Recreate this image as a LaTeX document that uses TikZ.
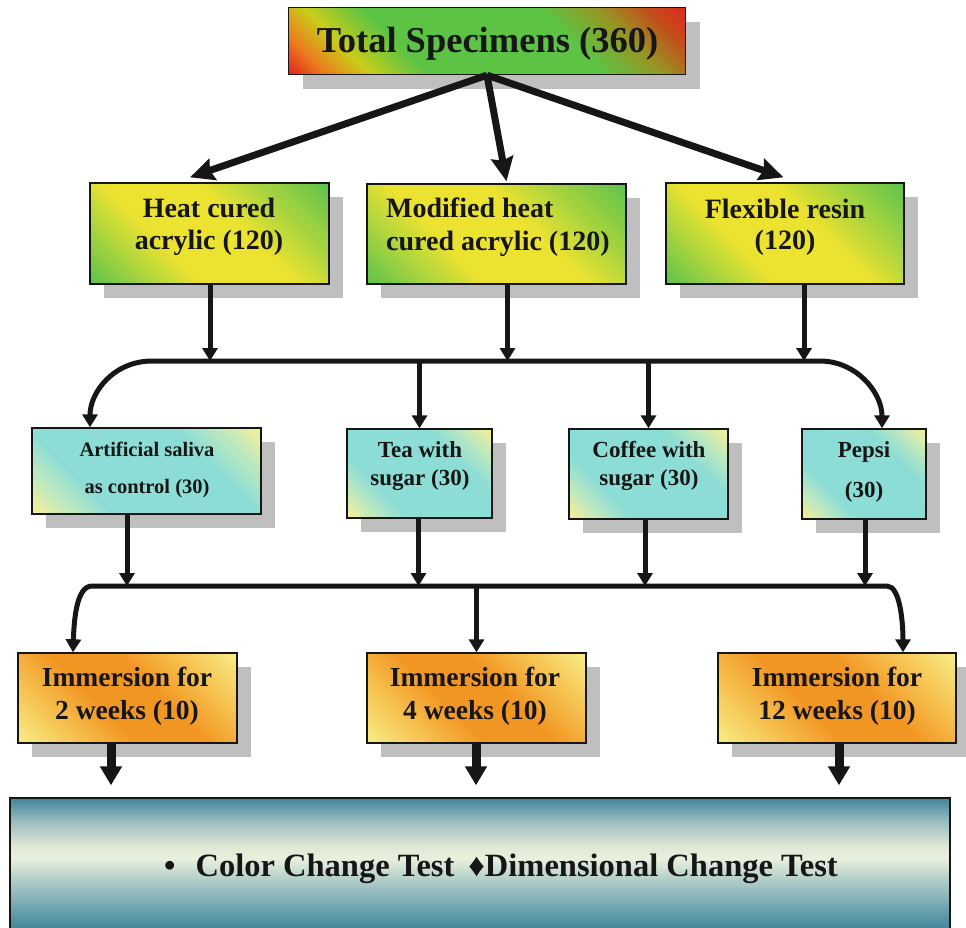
\documentclass[tikz,border=0pt]{standalone}
\usepackage{fontspec}
\setmainfont{Liberation Serif}
\usetikzlibrary{arrows.meta,shadows,calc}
% top box colours
\definecolor{tR}{RGB}{222,42,30}
\definecolor{tO}{RGB}{236,120,30}
\definecolor{tY}{RGB}{200,205,25}
\definecolor{tG}{RGB}{92,195,68}
\definecolor{tOl}{RGB}{150,150,35}
\definecolor{tB}{RGB}{192,82,28}
% green boxes
\definecolor{gG}{RGB}{95,195,75}
\definecolor{gM}{RGB}{170,212,62}
\definecolor{gY}{RGB}{236,226,48}
% cyan boxes
\definecolor{cC}{RGB}{140,221,214}
\definecolor{cM}{RGB}{190,232,190}
\definecolor{cY}{RGB}{246,240,150}
% orange boxes
\definecolor{oO}{RGB}{242,150,35}
\definecolor{oM}{RGB}{246,196,82}
\definecolor{oY}{RGB}{248,236,135}
% bottom box
\definecolor{bT}{RGB}{62,133,153}
\definecolor{b910}{RGB}{105,160,172}
\definecolor{b880}{RGB}{175,205,200}
\definecolor{bCr}{RGB}{234,240,222}
\definecolor{b845}{RGB}{222,230,212}
\definecolor{b820}{RGB}{150,185,190}
\definecolor{ink}{RGB}{22,22,22}
\pgfdeclarehorizontalshading{topsh}{100bp}{color(0bp)=(tR); color(15bp)=(tR); color(20bp)=(tO); color(27bp)=(tY); color(36bp)=(tG); color(63bp)=(tG); color(72bp)=(tOl); color(79bp)=(tB); color(85bp)=(tR); color(100bp)=(tR)}
\pgfdeclarehorizontalshading{grsh}{100bp}{color(0bp)=(gG); color(15bp)=(gG); color(27bp)=(gM); color(38bp)=(gY); color(58bp)=(gY); color(70bp)=(gM); color(85bp)=(gG); color(100bp)=(gG)}
\pgfdeclarehorizontalshading{cysh}{100bp}{color(0bp)=(cY); color(15bp)=(cY); color(24bp)=(cM); color(33bp)=(cC); color(66bp)=(cC); color(76bp)=(cM); color(85bp)=(cY); color(100bp)=(cY)}
\pgfdeclarehorizontalshading{orsh}{100bp}{color(0bp)=(oY); color(15bp)=(oY); color(28bp)=(oM); color(42bp)=(oO); color(58bp)=(oO); color(72bp)=(oM); color(85bp)=(oY); color(100bp)=(oY)}
\pgfdeclareverticalshading{botsh}{100bp}{color(0bp)=(bT); color(27bp)=(bT); color(34bp)=(b910); color(45bp)=(b880); color(53bp)=(bCr); color(58bp)=(b845); color(67bp)=(b820); color(75bp)=(bT); color(100bp)=(bT)}
\newcommand\myfs[2]{\fontsize{#1pt}{#2pt}\selectfont\bfseries}
\tikzset{
  box/.style={draw=ink, line width=1.4pt, inner sep=0pt,
    drop shadow={shadow xshift=14pt, shadow yshift=-14pt, fill=black!25, opacity=1}},
  topbox/.style={box, shading=topsh, shading angle=45},
  grbox/.style={box, shading=grsh, shading angle=45},
  cybox/.style={box, shading=cysh, shading angle=45},
  orbox/.style={box, shading=orsh, shading angle=45},
  txt/.style={inner sep=0pt, text=ink, align=center},
  mtip/.tip={Triangle[length=13pt,width=15pt]},
  ttip/.tip={Stealth[length=24pt,width=22pt,inset=3pt]},
  btip/.tip={Triangle[length=19pt,width=21pt]},
  toparr/.style={draw=ink, line width=7pt, -ttip},
  midline/.style={draw=ink, line width=5pt},
  midarr/.style={midline, -mtip},
  botarr/.style={draw=ink, line width=9pt, -btip},
}
\begin{document}
\begin{tikzpicture}[x=1pt,y=-1pt]
\useasboundingbox (0,0) rectangle (966,927);
% boxes
\node[topbox, minimum width=397pt, minimum height=67pt] (top) at (487,41) {};
\node[grbox, minimum width=239pt, minimum height=101pt] (hca) at (209.5,233.5) {};
\node[grbox, minimum width=259pt, minimum height=100pt] (mhca) at (496.5,234) {};
\node[grbox, minimum width=238pt, minimum height=101pt] (fr) at (785,233.5) {};
\node[cybox, minimum width=229pt, minimum height=86pt] (sal) at (146.5,471) {};
\node[cybox, minimum width=145pt, minimum height=89pt] (tea) at (419.5,473.5) {};
\node[cybox, minimum width=159pt, minimum height=90pt] (cof) at (648.5,474) {};
\node[cybox, minimum width=124pt, minimum height=90pt] (pep) at (864,474) {};
\node[orbox, minimum width=219pt, minimum height=90pt] (w2) at (127.5,698) {};
\node[orbox, minimum width=219pt, minimum height=90pt] (w4) at (476.5,698) {};
\node[orbox, minimum width=238pt, minimum height=90pt] (w12) at (837,698) {};
\node[draw=ink, line width=1.4pt, shading=botsh, minimum width=940pt, minimum height=137pt, inner sep=0pt] (bot) at (480,866.5) {};
% texts
\node[txt, font=\myfs{36.5}{40}, anchor=base] (topT) at (487.5,52) {Total Specimens (360)};
\node[txt, font=\myfs{28}{32}] (hcaT) at (209,227) {Heat cured\\acrylic (120)};
\node[txt, font=\myfs{28}{33}, align=left, anchor=west] (mhcaT) at (386,227) {Modified heat\\cured acrylic (120)};
\node[txt, font=\myfs{28}{31}] (frT) at (785,227) {Flexible resin\\(120)};
\node[txt, font=\myfs{20.5}{37}] (salT) at (147,469.5) {Artificial saliva\\as control (30)};
\node[txt, font=\myfs{23}{27.5}] (teaT) at (420,466) {Tea with\\sugar (30)};
\node[txt, font=\myfs{23}{27.5}] (cofT) at (649,466) {Coffee with\\sugar (30)};
\node[txt, font=\myfs{23}{40}] (pepT) at (864,472) {Pepsi\\(30)};
\node[txt, font=\myfs{27.5}{33}] (w2T) at (127,696.5) {Immersion for\\2 weeks (10)};
\node[txt, font=\myfs{27.5}{33}] (w4T) at (475,696.5) {Immersion for\\4 weeks (10)};
\node[txt, font=\myfs{27.5}{33}] (w12T) at (837,696.5) {Immersion for\\12 weeks (10)};
\node[txt, font=\myfs{32.5}{36}, anchor=base] (botT) at (501,876) {•\hspace{20pt}Color Change Test\hspace{14pt}♦Dimensional Change Test};
% top arrows
\draw[toparr] (top.south) -- ([xshift=-19.5pt,yshift=5pt]hca.north);
\draw[toparr] (top.south) -- ([xshift=10pt,yshift=2pt]mhca.north);
\draw[toparr] (top.south) -- ([xshift=-1.5pt,yshift=5pt]fr.north);
% bar 1
\coordinate (bar1) at (490,361);
\coordinate (p1) at ([xshift=0.5pt]hca.south);
\coordinate (p2) at ([xshift=11pt]mhca.south);
\coordinate (p3) at ([xshift=19pt]fr.south);
\draw[midarr] (p1) -- (p1 |- bar1);
\draw[midarr] (p2) -- (p2 |- bar1);
\draw[midarr] (p3) -- (p3 |- bar1);
\coordinate (q1) at ([xshift=-56.5pt]sal.north);
\coordinate (q4) at ([xshift=18pt]pep.north);
\coordinate (b1L) at (152,361);
\coordinate (b1R) at (820,361);
\draw[midline, mtip-mtip] (q1) .. controls (90,392) and (114,361) .. (b1L) -- (b1R) .. controls (856,361) and (882,392) .. (q4);
\draw[midarr] (tea.north |- bar1) -- (tea.north);
\draw[midarr] (cof.north |- bar1) -- (cof.north);
% bar 2
\coordinate (bar2) at (480,586);
\coordinate (s1) at ([xshift=-19.5pt]sal.south);
\coordinate (s2) at ([xshift=-1pt]tea.south);
\coordinate (s3) at ([xshift=-3.5pt]cof.south);
\coordinate (s4) at ([xshift=1pt]pep.south);
\draw[midarr] (s1) -- (s1 |- bar2);
\draw[midarr] (s2) -- (s2 |- bar2);
\draw[midarr] (s3) -- (s3 |- bar2);
\draw[midarr] (s4) -- (s4 |- bar2);
\coordinate (r1) at ([xshift=-54.5pt]w2.north);
\coordinate (r3) at ([xshift=66pt]w12.north);
\coordinate (b2L) at (92,586);
\coordinate (b2R) at (887,586);
\draw[midline, mtip-mtip] (r1) .. controls (74,622) and (76,586) .. (b2L) -- (b2R) .. controls (900,586) and (903,622) .. (r3);
\draw[midarr] (w4.north |- bar2) -- (w4.north);
% bottom arrows
\coordinate (botTop) at ([yshift=12pt]bot.north);
\coordinate (a1) at ([xshift=-16.5pt]w2.south);
\coordinate (a2) at ([xshift=-0.5pt]w4.south);
\coordinate (a3) at ([xshift=2pt]w12.south);
\draw[botarr] (a1) -- (a1 |- botTop);
\draw[botarr] (a2) -- (a2 |- botTop);
\draw[botarr] (a3) -- (a3 |- botTop);
\end{tikzpicture}
\end{document}
